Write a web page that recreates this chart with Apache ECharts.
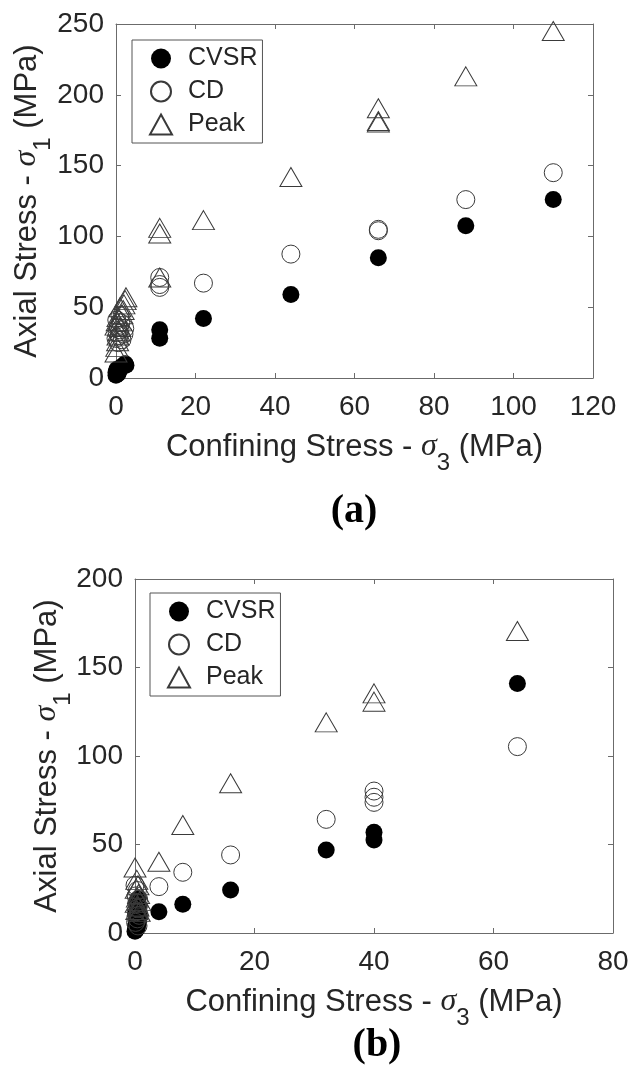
<!DOCTYPE html>
<html>
<head>
<meta charset="utf-8">
<script src="https://cdn.jsdelivr.net/npm/echarts@6/dist/echarts.min.js"></script>
<style>
  html, body { margin: 0; padding: 0; background: #fff; }
  #chart { width: 632px; height: 1072px; }
</style>
</head>
<body>
<div id="chart"></div>
<script>
// ---------- Data: panel (a) ----------
const cvsrA = [
  [0, 2], [0, 4], [0.2, 6], [0.5, 3], [0.8, 5], [1, 7], [1.5, 8], [2, 9], [2.3, 10], [2.5, 9],
  [11, 28], [11, 34], [22, 42], [44, 59], [66, 85], [88, 107.5], [110, 126]
];
const cdA = [
  [0, 28], [0.3, 32], [0.5, 36], [0.8, 30], [1, 34], [1.2, 39], [1.5, 27], [2, 31], [0.2, 41], [0.6, 25], [2.2, 35], [1, 44],
  [11, 71], [11, 66], [11, 64], [22, 67], [44, 87.5], [66, 105], [66, 104], [88, 126], [110, 145]
];
const peakA = [
  [0, 18], [0.2, 22], [0.4, 26], [0.5, 30], [0.7, 33], [0, 37], [1, 36], [1.2, 40], [0.5, 43], [1.5, 45], [1.8, 48], [2, 52], [2.3, 55], [2.5, 57], [1, 50], [0.3, 40],
  [11, 106], [11, 102], [11, 71], [22, 111.5], [44, 142], [66, 190.5], [66, 181.5], [66, 180.5], [88, 213], [110, 245]
];
// ---------- Data: panel (b) ----------
const cvsrB = [
  [0, 1], [0.2, 2], [0.4, 3], [0.1, 4], [0.3, 5], [0.6, 6], [0.2, 7], [0.5, 8], [0.3, 9], [0.7, 10], [0.1, 11], [0.4, 13], [0.6, 15], [0.3, 17], [0.5, 19],
  [4, 12], [8, 16.2], [16, 24.3], [32, 46.9], [40, 56.9], [40, 52.5], [64, 141]
];
const cdB = [
  [0, 27], [0.4, 24], [0.2, 21], [0.6, 19], [0.3, 17], [0.5, 14], [0.2, 12], [0.7, 10], [0.4, 8], [0.1, 6], [0.5, 4],
  [4, 26.2], [8, 34.3], [16, 44.1], [32, 64.2], [40, 80.2], [40, 76.7], [40, 73.8], [64, 105.3]
];
const peakB = [
  [0, 37], [0.3, 30], [0.5, 27], [0.2, 25], [0.6, 22], [0.4, 20], [0.8, 18], [0.2, 17], [0.5, 15], [0.3, 13], [0.7, 12],
  [4, 40.3], [8, 61], [16, 84.6], [32, 119], [40, 135.4], [40, 130.7], [64, 170.6]
];
const seriesNames = ['CVSR', 'CD', 'Peak'];
const xTitle = 'Confining Stress - {sg|σ}{sb|3} (MPa)';
const yTitle = 'Axial Stress - {sg|σ}{sb|1} (MPa)';
const panelLabels = ['(a)', '(b)'];

// ---------- Styles ----------
const FONT = 'Liberation Sans';
const TXT = '#262626';
const AX = '#6b6b6b';
const nameStyle = {
  fontFamily: FONT, fontSize: 31, color: TXT,
  rich: {
    sg: { fontFamily: 'Liberation Serif', fontStyle: 'italic', fontSize: 32, color: TXT },
    sb: { fontFamily: FONT, fontSize: 24, color: TXT, padding: [32, 0, 0, 0] }
  }
};
function xAx(grid, max, showLabels) {
  return {
    type: 'value', gridIndex: grid, min: 0, max: max, interval: 20,
    position: showLabels ? 'bottom' : 'top',
    name: showLabels ? xTitle : '', nameLocation: 'middle', nameGap: 41, nameTextStyle: nameStyle,
    nameMoveOverlap: false,
    axisLine: { show: true, onZero: false, lineStyle: { color: AX, width: 1 } },
    axisTick: { show: true, inside: true, length: 5, lineStyle: { color: AX } },
    axisLabel: { show: showLabels, fontFamily: FONT, fontSize: 28, color: TXT, margin: 15 },
    splitLine: { show: false }
  };
}
function yAx(grid, max, showLabels, gap) {
  return {
    type: 'value', gridIndex: grid, min: 0, max: max, interval: 50,
    position: showLabels ? 'left' : 'right',
    name: showLabels ? yTitle : '', nameLocation: 'middle', nameGap: gap, nameRotate: 90, nameTextStyle: nameStyle,
    nameMoveOverlap: false,
    axisLine: { show: true, onZero: false, lineStyle: { color: AX, width: 1 } },
    axisTick: { show: true, inside: true, length: 5, lineStyle: { color: AX } },
    axisLabel: { show: showLabels, fontFamily: FONT, fontSize: 28, color: TXT, margin: 12 },
    splitLine: { show: false }
  };
}
const markerStyles = {
  CVSR: { symbol: 'circle', symbolSize: 17, itemStyle: { color: '#000', borderColor: '#000', borderWidth: 0, opacity: 1 } },
  CD: { symbol: 'circle', symbolSize: 18, itemStyle: { color: 'rgba(0,0,0,0)', borderColor: '#3a3a3a', borderWidth: 1, opacity: 1 } },
  Peak: { symbol: 'triangle', symbolSize: [22, 19], itemStyle: { color: 'rgba(0,0,0,0)', borderColor: '#3a3a3a', borderWidth: 1, opacity: 1 } }
};
function sc(name, data, axisIdx) {
  const m = markerStyles[name];
  return {
    type: 'scatter', name: name, data: data,
    xAxisIndex: axisIdx, yAxisIndex: axisIdx,
    symbol: m.symbol, symbolSize: m.symbolSize, itemStyle: m.itemStyle,
    emphasis: { disabled: true }, animation: false
  };
}
function legend(left, top) {
  return {
    data: seriesNames,
    orient: 'vertical', left: left, top: top,
    padding: [6, 5, 6, 17], itemGap: 8, itemWidth: 22, itemHeight: 20,
    borderColor: '#555', borderWidth: 1, backgroundColor: '#fff',
    textStyle: { fontFamily: FONT, fontSize: 25, color: TXT, padding: [0, 0, 0, 11] },
    selectedMode: false
  };
}

const chart = echarts.init(document.getElementById('chart'), null, { renderer: 'canvas' });
chart.setOption({
  backgroundColor: '#fff',
  animation: false,
  grid: [
    { left: 116, top: 24, width: 477, height: 354 },
    { left: 135, top: 579, width: 478, height: 354 }
  ],
  xAxis: [xAx(0, 120, true), xAx(0, 120, false), xAx(1, 80, true), xAx(1, 80, false)],
  yAxis: [yAx(0, 250, true, 61), yAx(0, 250, false, 61), yAx(1, 200, true, 60), yAx(1, 200, false, 60)],
  legend: [legend(132, 40), legend(150, 593)],
  series: [
    sc('CVSR', cvsrA, 0), sc('CD', cdA, 0), sc('Peak', peakA, 0),
    sc('CVSR', cvsrB, 2), sc('CD', cdB, 2), sc('Peak', peakB, 2)
  ],
  graphic: [
    { type: 'text', x: 354, y: 512, style: { text: panelLabels[0], font: 'bold 40px "Liberation Serif"', fill: '#000', align: 'center', verticalAlign: 'middle' } },
    { type: 'text', x: 377, y: 1046, style: { text: panelLabels[1], font: 'bold 40px "Liberation Serif"', fill: '#000', align: 'center', verticalAlign: 'middle' } }
  ]
});
</script>
</body>
</html>
